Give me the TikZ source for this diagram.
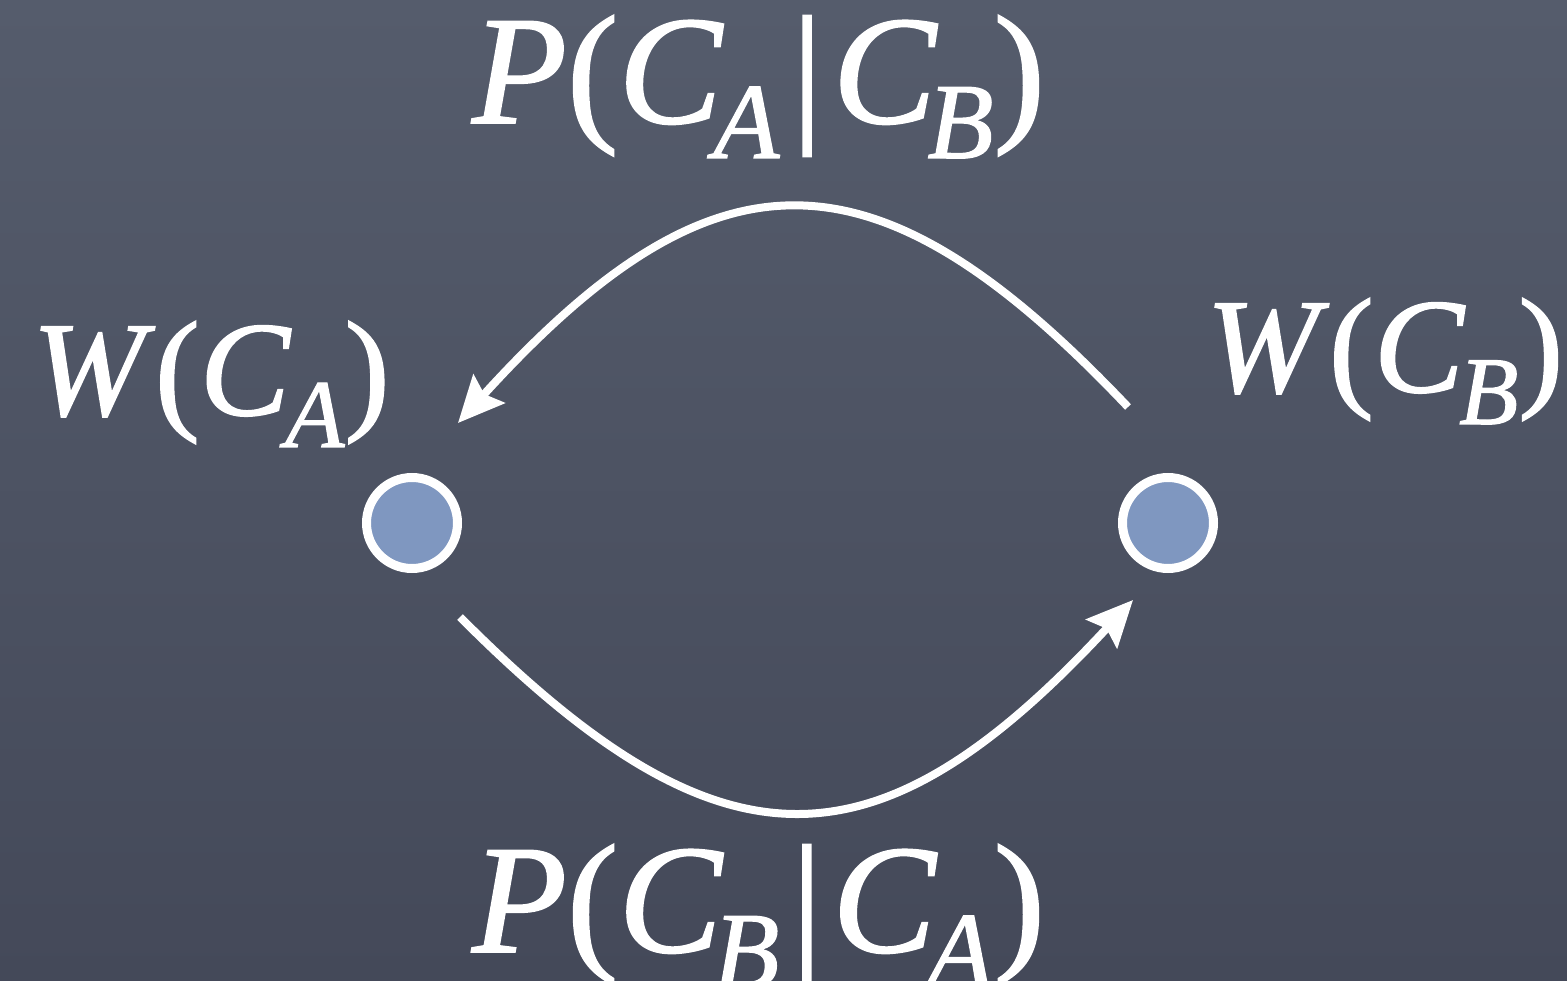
\documentclass[tikz,border=0pt]{standalone}
\usepackage{fontspec}
\setmainfont{Liberation Serif}[FakeBold=1.2]
\usetikzlibrary{arrows.meta,calc}
\definecolor{bgtop}{HTML}{555C6C}
\definecolor{bgbot}{HTML}{444959}
\definecolor{dotfill}{HTML}{7F97C0}
\newcommand\psub[1]{\raisebox{-35pt}{\fontsize{108}{108}\selectfont\textit{#1}}}
\newcommand\wsub[1]{\raisebox{-32pt}{\fontsize{97}{97}\selectfont\textit{#1}}}
\newcommand\vbar{\hspace{12pt}|\hspace{10pt}}
\tikzset{
  plbl/.style={text=white, inner sep=0pt, font=\fontsize{155}{160}\selectfont},
  wlbl/.style={text=white, inner sep=0pt, font=\fontsize{135}{140}\selectfont},
  state/.style={circle, draw=white, line width=9pt, fill=dotfill, minimum size=91pt, inner sep=0pt},
  flow/.style={white, line width=8pt, -{Stealth[length=46pt,width=42pt,inset=7pt]}}
}
\begin{document}
\begin{tikzpicture}[x=1pt,y=-1pt]
\useasboundingbox (0,0) rectangle (1567,981);
\shade[top color=bgtop, bottom color=bgbot] (0,0) rectangle (1567,981);
\node[state] (A) at (412,523) {};
\node[state] (B) at (1168,523) {};
\coordinate (s1) at ($(B)+(-40pt,116pt)$);
\coordinate (e1) at ($(A)+(46pt,100pt)$);
\coordinate (s2) at ($(A)+(48pt,-94pt)$);
\coordinate (e2) at ($(B)+(-35pt,-77pt)$);
\draw[flow] (s1) .. controls (875,140) and (715,140) .. (e1);
\draw[flow] (s2) .. controls (720,878) and (875,878) .. (e2);
\node[plbl, anchor=base west] (pab) at (472,123) {\textit{P}(\textit{C}\kern-10pt\psub{A}\vbar\textit{C}\kern-10pt\psub{B})};
\node[plbl, anchor=base west] (pba) at (472,952) {\textit{P}(\textit{C}\kern-10pt\psub{B}\vbar\textit{C}\kern-10pt\psub{A})};
\node[wlbl, anchor=base west] (wa) at (32,415) {\textit{W}(\textit{C}\kern-6pt\wsub{A})};
\node[wlbl, anchor=base west] (wb) at (1206,392) {\textit{W}(\textit{C}\kern-6pt\wsub{B})};
\end{tikzpicture}
\end{document}
